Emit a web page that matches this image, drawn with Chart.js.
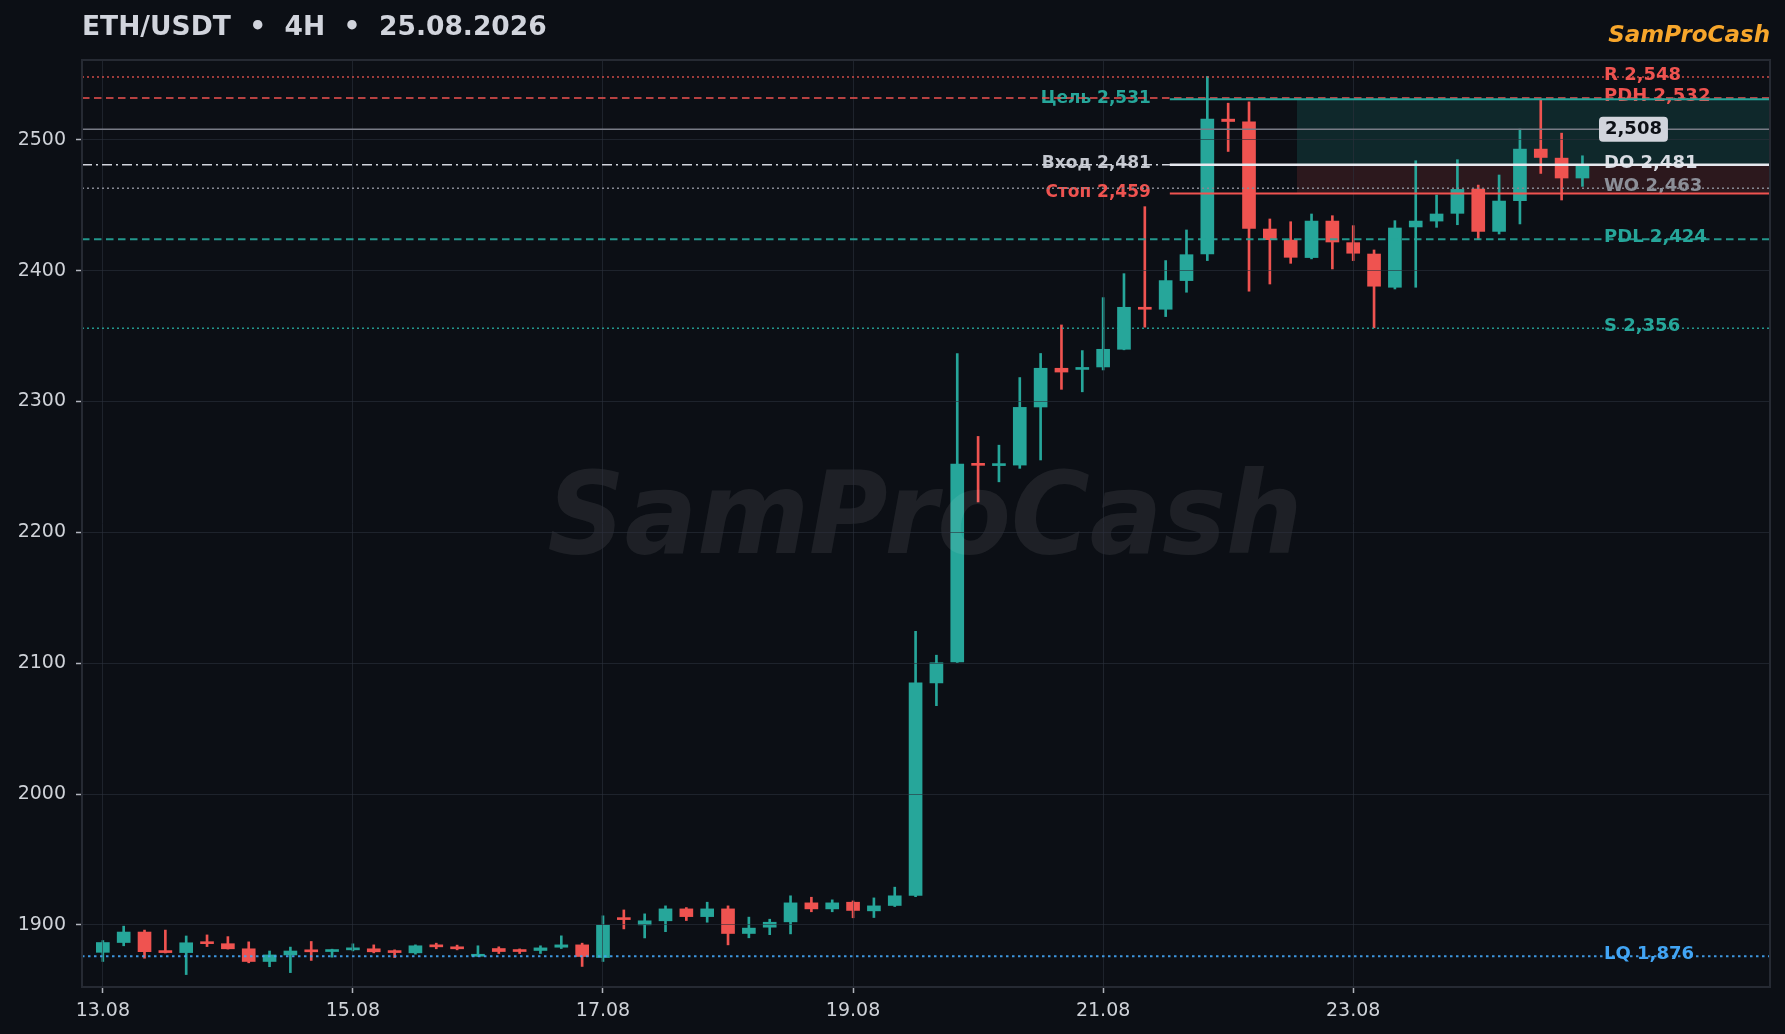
<!DOCTYPE html>
<html><head><meta charset="utf-8">
<script src="https://cdn.jsdelivr.net/npm/chart.js@4.4.1/dist/chart.umd.min.js"></script>
<style>html,body{margin:0;padding:0;background:#0c0f15;overflow:hidden}#wrap{width:1785px;height:1034px;position:relative}</style>
</head><body><div id="wrap"><canvas id="c"></canvas></div>
<script>
// ---- data (4H candles, 13.08 00:00 .. 24.08 20:00) ----
const opens  = [1879,1886.5,1894.5,1879.5,1878.8,1886.3,1885.6,1881.7,1872,1877,1880,1879.6,1880.9,1881.7,1879.5,1878.6,1884.2,1883.2,1876.0,1881.9,1880,1880.4,1882.9,1884.7,1875,1904.5,1900,1903.1,1912.2,1906.3,1912.2,1893.4,1898.2,1902.3,1916.8,1912.2,1917.3,1910.7,1914.8,1922.5,2084.9,2100.9,2252,2251,2251.4,2295.8,2325.4,2324.5,2326.4,2339.9,2371.5,2370.5,2392.4,2412.7,2515.8,2513.8,2431.8,2423.4,2410,2437.9,2421.4,2412.7,2387.3,2433.4,2437.9,2443.8,2462.4,2430,2453.5,2492.9,2486,2470.8];
const highs  = [1888,1899,1896,1896,1891.5,1892.3,1891,1887,1880,1883,1887.3,1881.4,1885.5,1884.7,1880.9,1884.7,1886,1884.5,1884,1883.2,1881.6,1884,1891.6,1886,1906.9,1911.4,1908.4,1914.5,1913.2,1917.3,1914.5,1905.9,1904.3,1922.2,1921.1,1919.1,1918.3,1920.6,1928.8,2124.4,2106.1,2336.7,2273.3,2266.6,2318.3,2336.7,2358.5,2338.9,2379.4,2397.7,2448.9,2407.7,2431.1,2548.4,2528,2529,2439.5,2437.4,2443.3,2442,2434.4,2415.8,2438.2,2484,2457.8,2484.8,2465.4,2473.1,2508.2,2530.3,2505.1,2487.8];
const lows   = [1872,1884,1874.5,1878.5,1862,1883.4,1881.5,1871,1868,1863.5,1872.8,1875.3,1880.1,1878.6,1875,1877.6,1881.7,1880.9,1875.8,1878.1,1878.1,1878.1,1881.9,1868.2,1872,1896.9,1890,1894.8,1903.3,1902,1884.7,1890.1,1892.5,1893.1,1910,1910,1905.4,1905.6,1914,1921.5,2067.5,2100.5,2223.2,2238.6,2248.9,2255.3,2309.3,2307.4,2324.1,2339.5,2356.8,2364.9,2383.5,2407.7,2491.1,2384.3,2389.8,2405.6,2409,2401.3,2407.7,2356.3,2386,2387.3,2433.1,2435.1,2423.7,2428,2435.7,2474.3,2454,2464.4];
const closes = [1886.5,1894.5,1879.5,1878.8,1886.3,1885.6,1881.7,1872,1877,1880,1879.4,1880.9,1881.7,1879.4,1878.8,1884,1883.2,1881.7,1876.4,1879.6,1879.6,1882.4,1884.7,1875.8,1899.7,1904,1903.1,1912.2,1906.3,1912.2,1893.4,1897.5,1902,1916.8,1912.2,1916.8,1911,1914.5,1922.2,2084.9,2100.3,2252.1,2251.2,2251.5,2295.5,2325.4,2322.5,2325.4,2339.9,2372,2370.5,2392.4,2412.2,2515.8,2514,2432.3,2423.7,2410.2,2437.9,2421.9,2413.3,2388.1,2432.6,2437.9,2443.3,2462.1,2430,2453.2,2492.9,2486.5,2470.8,2480.2];

const xTickIdx    = [0,12,24,36,48,60];
const xTickLabels = ['13.08','15.08','17.08','19.08','21.08','23.08'];
const yTicks      = [1900,2000,2100,2200,2300,2400,2500];

const levelNames  = ['R','PDH','DO','WO','PDL','S','LQ'];
const levelValues = [2548,2532,2481,2463,2424,2356,1876];
const tradeNames  = ['Цель','Вход','Стоп'];
const tradeValues = [2531,2481,2459];
const lastPrice   = 2508;
const tradeStart  = 51.2;   // candle index where the trade lines start
const zoneStart   = 57.3;   // candle index where the target/stop zones start

const titleText = 'ETH/USDT  \u2022  4H  \u2022  25.08.2026';
const brandText = 'SamProCash';

// ---- styles ----
const BG = '#0c0f15', GREEN = '#26a69a', RED = '#ef5350', BLUE = '#42a5f5';
const TICK_COL = '#cfd2d8', GRID_COL = 'rgba(44,48,60,0.6)';
const FONT = '"DejaVu Sans", sans-serif';
Chart.defaults.font.family = FONT;

const levelStyle = {
  R:   {color:'rgba(239,83,80,0.85)', dash:[2,3], w:1.5, text:RED},
  PDH: {color:'rgba(239,83,80,0.75)', dash:[7.5,4.5], w:2, text:RED},
  DO:  {color:'#d1d4dc', dash:[10,4,2,4], w:1.5, text:'#d8dbe2'},
  WO:  {color:'#868993', dash:[2,3], w:1.5, text:'#8c8f98'},
  PDL: {color:'rgba(38,166,154,0.9)', dash:[7.5,4.5], w:2, text:GREEN},
  S:   {color:'rgba(38,166,154,0.9)', dash:[2,3], w:1.5, text:GREEN},
  LQ:  {color:'rgba(66,165,245,0.9)', dash:[2.5,3.5], w:2, text:BLUE}
};
const tradeStyle = {
  'Цель': {color:GREEN, w:2, text:GREEN},
  'Вход': {color:'#e6e8ee', w:2.5, text:'#c3c6ce'},
  'Стоп': {color:RED, w:2, text:RED}
};

const fmt = v => v.toLocaleString('en-US');
const candleColors = opens.map((o,i) => closes[i] >= o ? GREEN : RED);

const overlay = {
  id:'overlay',
  beforeDraw(chart){
    const c = chart.ctx, a = chart.chartArea;
    c.save();
    c.fillStyle = BG; c.fillRect(0,0,chart.width,chart.height);
    c.textBaseline = 'alphabetic';
    c.font = 'bold 26.5px ' + FONT; c.fillStyle = '#d1d4dc'; c.textAlign = 'left';
    c.fillText(titleText, a.left, 35);
    c.font = 'italic bold 23px ' + FONT; c.fillStyle = '#f7a62b'; c.textAlign = 'right';
    c.fillText(brandText, a.right, 42);
    c.restore();
  },
  beforeDatasetsDraw(chart){
    const c = chart.ctx, a = chart.chartArea, x = chart.scales.x, y = chart.scales.y;
    const x0 = x.getPixelForValue(zoneStart);
    const yT = y.getPixelForValue(tradeValues[0]);
    const yE = y.getPixelForValue(tradeValues[1]);
    const yS = y.getPixelForValue(tradeValues[2]);
    c.save();
    c.fillStyle = 'rgba(38,166,154,0.17)'; c.fillRect(x0, yT, a.right - x0, yE - yT);
    c.fillStyle = 'rgba(239,83,80,0.14)'; c.fillRect(x0, yE, a.right - x0, yS - yE);
    c.restore();
  },
  afterDatasetsDraw(chart){
    const c = chart.ctx, a = chart.chartArea;
    c.save();
    c.font = 'italic bold 114px ' + FONT;
    const w = c.measureText(brandText).width;
    const cx = (a.left + a.right)/2 - 1, by = 553;
    c.translate(cx, by); c.scale(755 / w, 1);
    c.fillStyle = 'rgba(255,255,255,0.075)'; c.textAlign = 'center'; c.textBaseline = 'alphabetic';
    c.fillText(brandText, 0, 0);
    c.restore();
  },
  afterDraw(chart){
    const c = chart.ctx, a = chart.chartArea, x = chart.scales.x, y = chart.scales.y;
    const xs = x.getPixelForValue(tradeStart);
    const labelX = a.right - 166;
    c.save();
    c.textBaseline = 'middle';
    // right-side level labels
    c.font = 'bold 18px ' + FONT; c.textAlign = 'left';
    levelNames.forEach((n,i) => {
      c.fillStyle = levelStyle[n].text;
      c.fillText(n + ' ' + fmt(levelValues[i]), labelX, y.getPixelForValue(levelValues[i]) - 1.5);
    });
    // trade labels left of the trade start
    c.font = 'bold 17px ' + FONT; c.textAlign = 'right';
    tradeNames.forEach((n,i) => {
      c.fillStyle = tradeStyle[n].text;
      c.fillText(n + ' ' + fmt(tradeValues[i]), xs - 19, y.getPixelForValue(tradeValues[i]) - 1);
    });
    // full-width levels
    c.beginPath(); c.rect(a.left, a.top, a.right - a.left, a.bottom - a.top); c.clip();
    const yl = y.getPixelForValue(lastPrice);
    c.setLineDash([]); c.strokeStyle = '#787b86'; c.lineWidth = 1.5;
    c.beginPath(); c.moveTo(a.left, yl); c.lineTo(a.right, yl); c.stroke();
    levelNames.forEach((n,i) => {
      const s = levelStyle[n], yy = y.getPixelForValue(levelValues[i]);
      c.setLineDash(s.dash); c.strokeStyle = s.color; c.lineWidth = s.w;
      c.beginPath(); c.moveTo(a.left, yy); c.lineTo(a.right, yy); c.stroke();
    });
    // trade lines
    c.setLineDash([]);
    tradeNames.forEach((n,i) => {
      const s = tradeStyle[n], yy = y.getPixelForValue(tradeValues[i]);
      c.strokeStyle = s.color; c.lineWidth = s.w;
      c.beginPath(); c.moveTo(xs, yy); c.lineTo(a.right, yy); c.stroke();
    });
    c.restore();
    // last price tag
    c.save();
    c.font = 'bold 18px ' + FONT;
    const t = fmt(lastPrice), tw = c.measureText(t).width;
    const bx = labelX - 5, bw = tw + 12, bh = 25, byy = yl - bh/2;
    c.fillStyle = '#d1d4dc';
    c.beginPath(); c.roundRect(bx, byy, bw, bh, 4); c.fill();
    c.fillStyle = '#0c0f15'; c.textAlign = 'left'; c.textBaseline = 'middle';
    c.fillText(t, bx + 6, yl);
    // frame
    c.strokeStyle = '#262a33'; c.lineWidth = 2;
    c.strokeRect(a.left, a.top, a.right - a.left, a.bottom - a.top);
    c.restore();
  }
};

new Chart(document.getElementById('c'), {
  type: 'bar',
  data: {
    datasets: [
      {label:'body', data: opens.map((o,i) => ({x:i, y:[o, closes[i]]})), backgroundColor: candleColors,
       barThickness: 13, minBarLength: 2, grouped: false, borderWidth: 0},
      {label:'wick', data: lows.map((l,i) => ({x:i, y:[l, highs[i]]})), backgroundColor: candleColors,
       barThickness: 2, grouped: false, borderWidth: 0}
    ]
  },
  options: {
    responsive: true, maintainAspectRatio: false, animation: false, devicePixelRatio: 1,
    layout: {padding: {top: 60, right: 15, left: 0, bottom: 0}},
    plugins: {legend: {display: false}, tooltip: {enabled: false}, title: {display: false}},
    scales: {
      x: {
        type: 'linear', min: -1, max: 80, offset: false,
        grid: {color: GRID_COL, offset: false, z: 1, tickLength: 6, tickColor: '#b2b5be', tickWidth: 1.5},
        border: {display: false},
        afterBuildTicks: s => { s.ticks = xTickIdx.map(v => ({value: v})); },
        afterFit: s => { s.height = 47; },
        ticks: {color: TICK_COL, font: {size: 19}, padding: 7, maxRotation: 0, autoSkip: false,
          callback: v => { const k = xTickIdx.indexOf(v); return k >= 0 ? xTickLabels[k] : ''; }}
      },
      y: {
        type: 'linear', min: 1852.5, max: 2561, position: 'left', beginAtZero: false,
        grid: {color: GRID_COL, z: 1, tickLength: 6, tickColor: '#b2b5be', tickWidth: 1.5},
        border: {display: false},
        afterBuildTicks: s => { s.ticks = yTicks.map(v => ({value: v})); },
        afterFit: s => { s.width = 82; },
        ticks: {color: TICK_COL, font: {size: 19}, padding: 10, callback: v => String(v)}
      }
    }
  },
  plugins: [overlay]
});
</script>
</body></html>
